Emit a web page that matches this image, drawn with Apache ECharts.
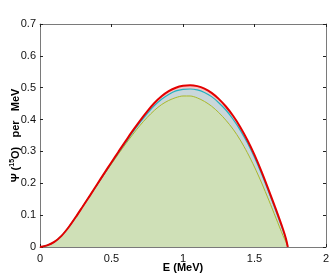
<!DOCTYPE html>
<html><head><meta charset="utf-8">
<script src="https://cdn.jsdelivr.net/npm/echarts@6/dist/echarts.min.js"></script>
<style>html,body{margin:0;padding:0;background:#fff}#c{width:332px;height:279px}</style>
</head><body><div id="c"></div>
<script>
const energies = [0,0.05,0.1,0.15,0.2,0.25,0.3,0.35,0.4,0.45,0.5,0.55,0.6,0.65,0.7,0.75,0.8,0.85,0.9,0.95,1.0,1.05,1.1,1.15,1.2,1.25,1.3,1.35,1.4,1.45,1.5,1.55,1.6,1.65,1.7,1.72,1.733];
const redValues = [0,0.005,0.016,0.035,0.062,0.094,0.128,0.162,0.197,0.232,0.266,0.300,0.333,0.366,0.397,0.426,0.452,0.473,0.489,0.500,0.506,0.508,0.505,0.497,0.484,0.465,0.441,0.412,0.377,0.336,0.289,0.236,0.178,0.118,0.055,0.026,0];
const blueValues = [0,0.005,0.016,0.035,0.062,0.094,0.128,0.162,0.196,0.230,0.264,0.297,0.329,0.361,0.391,0.419,0.444,0.464,0.479,0.490,0.495,0.496,0.493,0.485,0.472,0.453,0.430,0.401,0.367,0.327,0.281,0.229,0.172,0.113,0.052,0.024,0];
const greenValues = [0,0.005,0.016,0.035,0.062,0.094,0.128,0.162,0.195,0.229,0.261,0.293,0.324,0.354,0.382,0.407,0.429,0.447,0.460,0.469,0.474,0.474,0.468,0.457,0.442,0.422,0.398,0.370,0.336,0.296,0.251,0.201,0.147,0.091,0.035,0.016,0];
const xTicks = {min:0, max:2, interval:0.5};
const yTicks = {min:0, max:0.7, interval:0.1};

const pts = v => energies.map((e,i)=>[e, v[i]]);
const axisCol = '#7a7a7a';
const FF = 'Liberation Sans, Arial, sans-serif';
const lblStyle = {color:'#111', fontSize:11, fontFamily:FF};
function xa(pos, show){return {type:'value', position:pos, min:xTicks.min, max:xTicks.max, interval:xTicks.interval,
  axisLine:{show:true, onZero:false, lineStyle:{color:axisCol}}, axisTick:{show:true, inside:true, length:3, lineStyle:{color:'#222'}},
  axisLabel:{show:show, ...lblStyle, margin:6, formatter:v=>String(v)}, splitLine:{show:false}};}
function ya(pos, show){return {type:'value', position:pos, min:yTicks.min, max:yTicks.max, interval:yTicks.interval,
  axisLine:{show:true, onZero:false, lineStyle:{color:axisCol}}, axisTick:{show:true, inside:true, length:3, lineStyle:{color:'#222'}},
  axisLabel:{show:show, ...lblStyle, margin:4, formatter:v=>String(v)}, splitLine:{show:false}};}

const xMain = xa('bottom', true);
xMain.name = 'E (MeV)'; xMain.nameLocation='middle'; xMain.nameGap=15; xMain.nameMoveOverlap=false;
xMain.nameTextStyle = {fontSize:11, fontWeight:'bold', color:'#000', fontFamily:FF};
const yMain = ya('left', true);
yMain.name = '{b|Ψ (}{s|15}{b|O)   per   MeV}'; yMain.nameLocation='middle'; yMain.nameGap=18; yMain.nameRotate=90; yMain.nameMoveOverlap=false;
yMain.nameTextStyle = {fontSize:11, fontWeight:'bold', color:'#000', fontFamily:FF,
  rich:{b:{fontSize:11, fontWeight:'bold', color:'#000', fontFamily:FF},
        s:{fontSize:7, fontWeight:'bold', color:'#000', fontFamily:FF, padding:[0,0,6,0]}}};

function area(v, fill){return {type:'line', data:pts(v), smooth:0.3, symbol:'none', lineStyle:{width:0}, areaStyle:{color:fill, opacity:1}, silent:true};}
function line(v, col, w){return {type:'line', data:pts(v), smooth:0.3, symbol:'none', lineStyle:{width:w, color:col}, silent:true};}

const chart = echarts.init(document.getElementById('c'), null, {renderer:'canvas'});
chart.setOption({
  animation:false,
  grid:{left:40, right:6, top:24, bottom:32, containLabel:false, outerBoundsMode:'none'},
  xAxis:[xMain, xa('top', false)],
  yAxis:[yMain, ya('right', false)],
  series:[
    area(redValues, '#f3c6c6'),
    area(blueValues, '#c9d7db'),
    area(greenValues, '#cfe0b7'),
    line(greenValues, '#aab82a', 1),
    line(blueValues, '#1fb3c2', 1.2),
    line(redValues, '#e30000', 2)
  ]
});
</script></body></html>
